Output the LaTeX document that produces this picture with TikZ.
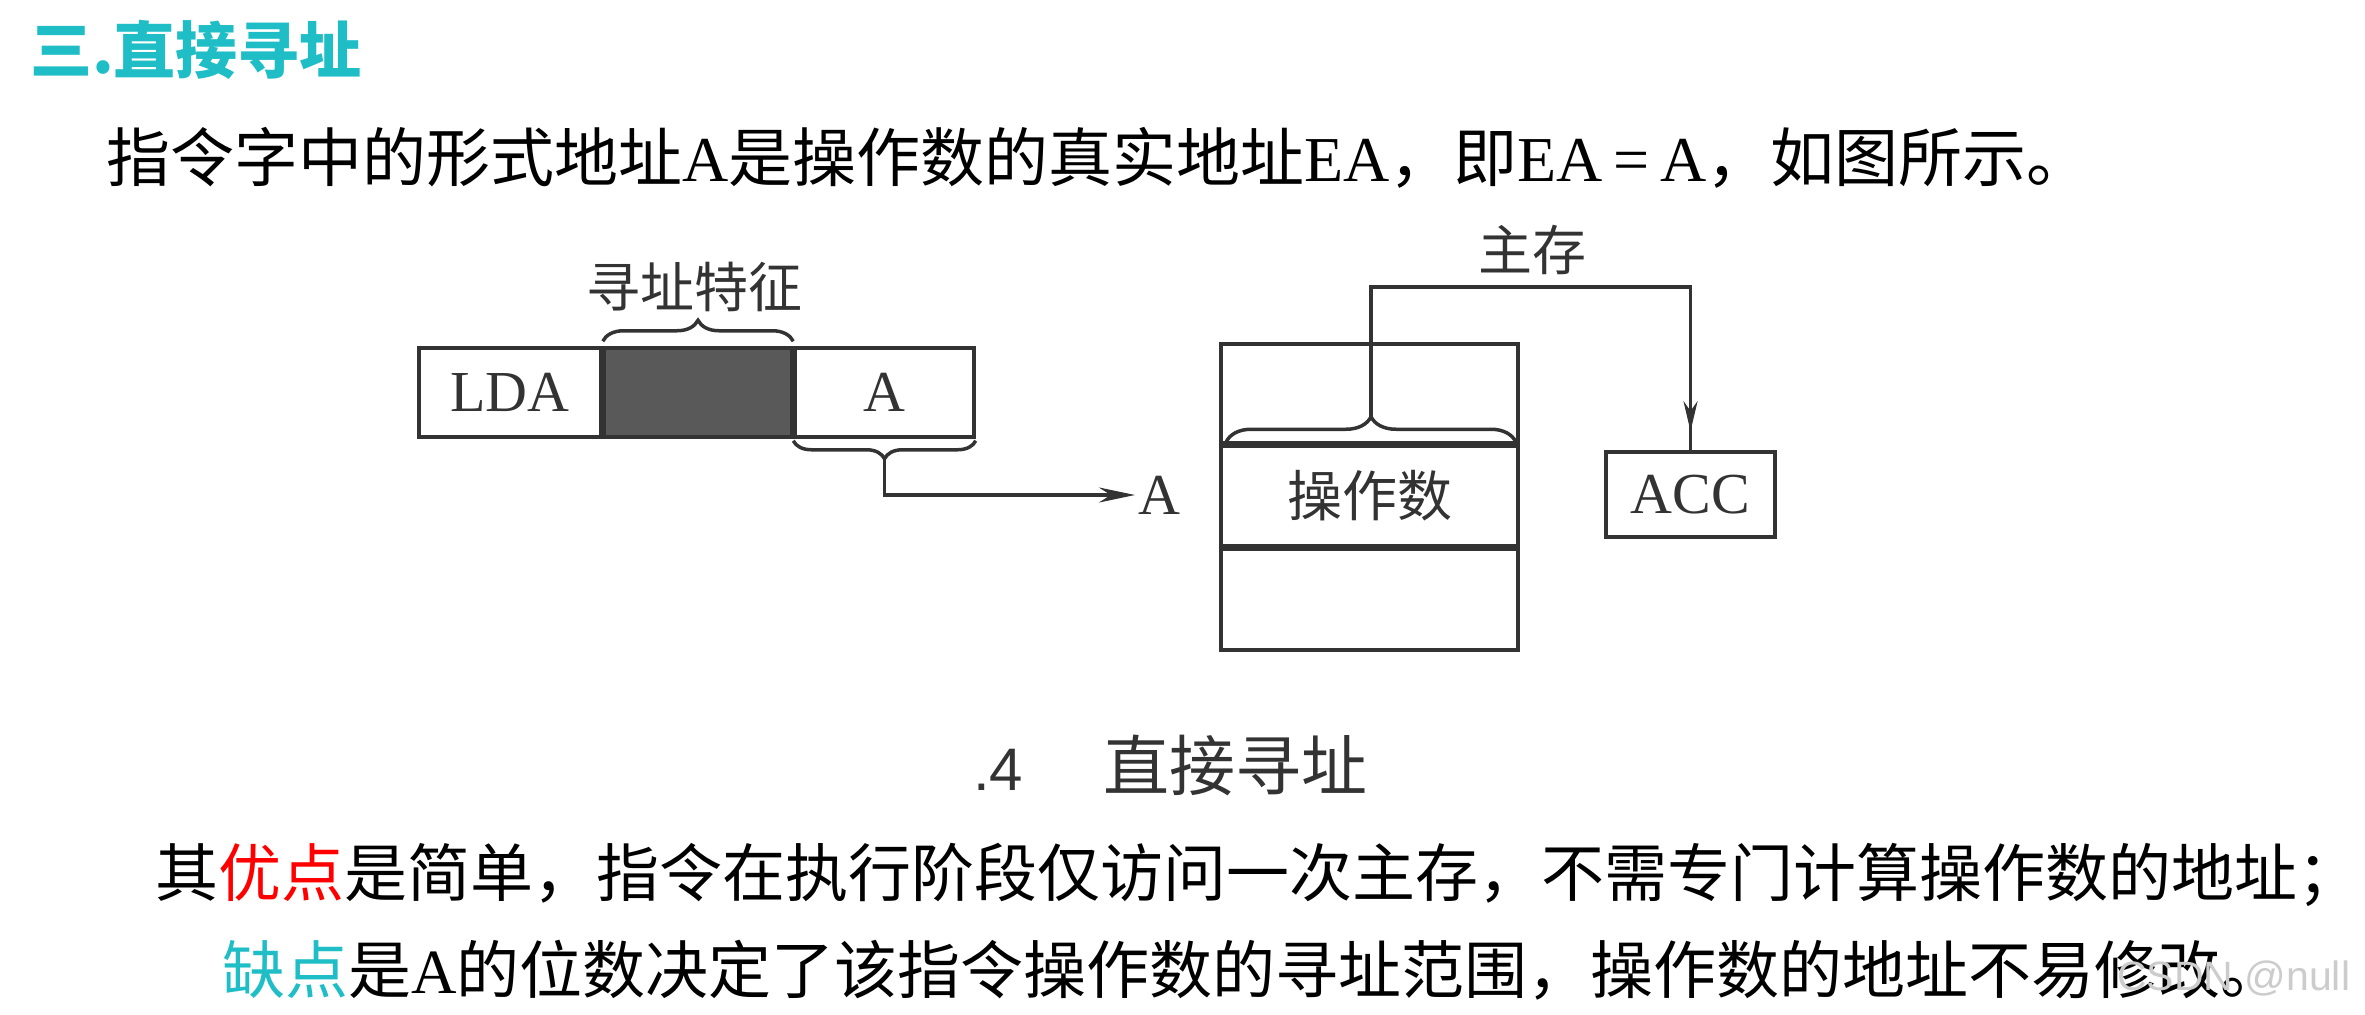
\documentclass[tikz,border=0pt]{standalone}
\usepackage{fontspec}
\setmainfont{Liberation Serif}
\newfontfamily\cjk{Noto Sans CJK SC}
\newfontfamily\lsans{Liberation Sans}
\usetikzlibrary{arrows.meta,decorations.pathreplacing,decorations.markings,calc}
\definecolor{tealc}{HTML}{1FBEC6}
\definecolor{inkc}{HTML}{333333}
\definecolor{fillc}{HTML}{595959}
\newcommand\fsz[1]{\fontsize{#1pt}{#1pt}\selectfont}
\begin{document}
\begin{tikzpicture}[x=1pt,y=-1pt,
  txt/.style={inner sep=0pt, anchor=base west},
  cell/.style={draw=inkc, line width=3.5pt, inner sep=0pt, minimum height=89pt, text=inkc, font=\fsz{58}},
  mcell/.style={draw=inkc, line width=3.5pt, inner sep=0pt, minimum width=297pt, text=inkc},
  lbl/.style={inner sep=0pt, text=inkc},
  conn/.style={draw=inkc, line width=3.5pt},
  brc/.style={conn, decorate, decoration={brace, amplitude=#1}}
]
\useasboundingbox (0,0) rectangle (2365,1014);

% heading and intro
\node[txt, text=tealc, font=\cjk\bfseries\fsz{62}] (title) at (30,74) {三.直接寻址};
\node[txt, font=\fsz{64}] (intro) at (106,181) {{\cjk 指令字中的形式地址}A{\cjk 是操作数的真实地址}EA{\cjk ，即}EA\,=\,A{\cjk ，如图所示。}};

% instruction word
\node[cell, minimum width=182pt] (lda) at (510,392.5) {LDA};
\node[cell, minimum width=187pt, fill=fillc, anchor=west] (fea) at (lda.east) {};
\node[cell, minimum width=179pt, anchor=west] (addr) at (fea.east) {A};

\draw[brc=21pt] ([yshift=5pt]fea.north west) -- ([yshift=5pt]fea.north east);
\node[lbl, font=\cjk\fsz{54}] (tag) at (694.5,287) {寻址特征};

\draw[brc=18pt] ([yshift=-2pt]addr.south east) -- ([yshift=-2pt]addr.south west);
\coordinate (atip) at ($(addr.south)+(0,20)$);
\node[lbl, font=\fsz{58}, anchor=west, inner sep=3pt] (alab) at (1135,495) {A};
\draw[conn, -{Stealth[length=36pt,width=15pt]}] (atip) |- (alab.west);

% main memory
\node[mcell, minimum height=99pt] (mtop) at (1369.5,393.5) {};
\node[mcell, minimum height=99pt, anchor=north, font=\cjk\fsz{55}] (mop) at (mtop.south) {操作数};
\node[mcell, minimum height=101pt, anchor=north] (mbot) at (mop.south) {};
\draw[brc=25pt] ([xshift=7pt,yshift=3pt]mtop.south west) -- ([xshift=-4pt,yshift=3pt]mtop.south east);
\coordinate (mtip) at ($(mtop.south)+(1.5,-28)$);
\node[lbl, font=\cjk\fsz{54}] (mem) at (1532,250) {主存};

\node[cell, minimum width=169pt, minimum height=85pt] (acc) at (1690.5,494.5) {ACC};
\coordinate (bend) at (1690.5,287);
\draw[conn, postaction={decorate}, decoration={markings, mark=at position -19pt with {\arrow[inkc]{Stealth[length=30pt,width=14pt]}}}] (mtip) |- (bend) -- (acc.north);

% caption
\node[txt, font=\lsans\fsz{60}, text=inkc] (fnum) at (973,790) {.4};
\node[txt, font=\cjk\fsz{66}, text=inkc] (cap) at (1103,790) {直接寻址};

% pros and cons
\node[txt, font=\cjk\fsz{63}] (pro) at (155,896) {其\textcolor{red}{优点}是简单，指令在执行阶段仅访问一次主存，不需专门计算操作数的地址；};
\node[txt, font=\fsz{63}] (con) at (222,993) {{\cjk\textcolor{tealc}{缺点}是}A{\cjk 的位数决定了该指令操作数的寻址范围，操作数的地址不易修改。}};

% watermark
\node[txt, font=\lsans\fsz{41}, text=gray!40] (wm) at (2117,990) {CSDN @null};
\end{tikzpicture}
\end{document}
